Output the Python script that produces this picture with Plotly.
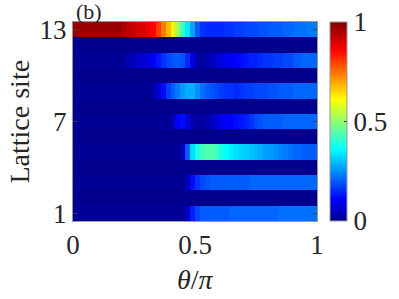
import plotly.graph_objects as go

# theta/pi cell centres (50 columns) and lattice sites
theta = [round(0.01 + 0.02 * k, 2) for k in range(50)]
sites = list(range(1, 14))

site13 = [0.97, 0.97, 0.97, 0.97, 0.97, 0.97, 0.97, 0.97, 0.97, 0.97,
          0.95, 0.93, 0.92, 0.91, 0.90, 0.88, 0.86, 0.80, 0.74, 0.68,
          0.62, 0.52, 0.42, 0.34, 0.27, 0.20, 0.16, 0.15, 0.15, 0.15,
          0.15, 0.16, 0.16, 0.17, 0.17, 0.18, 0.18, 0.18, 0.19, 0.19,
          0.20, 0.20, 0.20, 0.21, 0.21, 0.22, 0.22, 0.22, 0.23, 0.23]
site12 = [0.0] * 50
site11 = [0.01, 0.01, 0.01, 0.01, 0.01, 0.01, 0.01, 0.01, 0.01, 0.01,
          0.02, 0.04, 0.05, 0.06, 0.07, 0.08, 0.10, 0.13, 0.16, 0.18,
          0.19, 0.20, 0.19, 0.15, 0.08, 0.03, 0.02, 0.03, 0.05, 0.07,
          0.08, 0.09, 0.10, 0.11, 0.12, 0.13, 0.14, 0.14, 0.15, 0.16,
          0.16, 0.17, 0.17, 0.18, 0.18, 0.20, 0.20, 0.21, 0.21, 0.21]
site10 = [0.0] * 50
site9 = [0.01, 0.01, 0.01, 0.01, 0.01, 0.01, 0.01, 0.01, 0.01, 0.01,
         0.01, 0.01, 0.01, 0.01, 0.01, 0.01, 0.03, 0.07, 0.12, 0.17,
         0.20, 0.23, 0.26, 0.28, 0.28, 0.25, 0.22, 0.20, 0.19, 0.18,
         0.17, 0.16, 0.16, 0.15, 0.16, 0.17, 0.17, 0.18, 0.18, 0.18,
         0.19, 0.19, 0.20, 0.20, 0.20, 0.21, 0.21, 0.21, 0.21, 0.21]
site8 = [0.0] * 50
site7 = [0.01, 0.01, 0.01, 0.01, 0.01, 0.01, 0.01, 0.01, 0.01, 0.01,
         0.01, 0.01, 0.01, 0.01, 0.01, 0.01, 0.01, 0.01, 0.01, 0.01,
         0.04, 0.10, 0.12, 0.08, 0.03, 0.02, 0.02, 0.03, 0.05, 0.07,
         0.09, 0.10, 0.11, 0.12, 0.13, 0.14, 0.16, 0.18, 0.19, 0.20,
         0.20, 0.20, 0.20, 0.21, 0.21, 0.21, 0.21, 0.21, 0.21, 0.21]
site6 = [0.0] * 50
site5 = [0.01, 0.01, 0.01, 0.01, 0.01, 0.01, 0.01, 0.01, 0.01, 0.01,
         0.01, 0.01, 0.01, 0.01, 0.01, 0.01, 0.01, 0.01, 0.01, 0.01,
         0.01, 0.01, 0.05, 0.20, 0.33, 0.39, 0.42, 0.44, 0.44, 0.42,
         0.38, 0.36, 0.34, 0.33, 0.32, 0.31, 0.30, 0.29, 0.28, 0.27,
         0.26, 0.25, 0.24, 0.23, 0.22, 0.21, 0.21, 0.20, 0.20, 0.20]
site4 = [0.0] * 50
site3 = [0.01, 0.01, 0.01, 0.01, 0.01, 0.01, 0.01, 0.01, 0.01, 0.01,
         0.01, 0.01, 0.01, 0.01, 0.01, 0.01, 0.01, 0.01, 0.01, 0.01,
         0.01, 0.01, 0.01, 0.04, 0.12, 0.16, 0.18, 0.19, 0.20, 0.20,
         0.20, 0.20, 0.20, 0.20, 0.20, 0.20, 0.21, 0.21, 0.21, 0.21,
         0.21, 0.21, 0.21, 0.21, 0.21, 0.21, 0.21, 0.21, 0.21, 0.21]
site2 = [0.0] * 50
site1 = [0.01, 0.01, 0.01, 0.01, 0.01, 0.01, 0.01, 0.01, 0.01, 0.01,
         0.01, 0.01, 0.01, 0.01, 0.01, 0.01, 0.01, 0.01, 0.01, 0.01,
         0.01, 0.01, 0.01, 0.05, 0.14, 0.18, 0.20, 0.20, 0.20, 0.20,
         0.20, 0.20, 0.21, 0.21, 0.21, 0.21, 0.21, 0.21, 0.21, 0.21,
         0.21, 0.21, 0.22, 0.22, 0.22, 0.22, 0.22, 0.22, 0.22, 0.22]

z = [site1, site2, site3, site4, site5, site6, site7,
     site8, site9, site10, site11, site12, site13]

xticks = [0, 0.5, 1]
xticklabels = ["0", "0.5", "1"]
yticks = [1, 7, 13]
yticklabels = ["1", "7", "13"]
cticks = [0, 0.5, 1]
cticklabels = ["0", "0.5", "1"]

jet = [[0.0, "rgb(0,0,140)"], [0.11, "rgb(0,0,255)"], [0.36, "rgb(0,255,255)"],
       [0.61, "rgb(255,255,0)"], [0.86, "rgb(255,0,0)"], [1.0, "rgb(128,0,0)"]]

FONT = "Liberation Serif"
TXT = "#262626"
TICKSIZE = 27

fig = go.Figure(go.Heatmap(
    x=theta, y=sites, z=z, zmin=0, zmax=1, colorscale=jet,
    colorbar=dict(x=1.053, xanchor="left", xpad=0, y=0, yanchor="bottom",
                  len=1, lenmode="fraction", ypad=0, thickness=17,
                  outlinewidth=1, outlinecolor="#999999",
                  tickvals=cticks, ticktext=cticklabels, ticks="inside",
                  ticklen=3, tickcolor="#333333",
                  tickfont=dict(size=TICKSIZE, family=FONT, color=TXT)),
))

fig.update_layout(
    width=399, height=299,
    margin=dict(l=73, r=82, t=22, b=78, autoexpand=False),
    paper_bgcolor="white", plot_bgcolor="white",
    font=dict(family=FONT, color=TXT),
    xaxis=dict(range=[0, 1], tickvals=xticks, ticktext=xticklabels,
               ticks="inside", ticklen=4, tickcolor="#444444",
               showline=True, linecolor="#999999", mirror="ticks",
               showgrid=False, zeroline=False, automargin=False,
               tickfont=dict(size=TICKSIZE, family=FONT, color=TXT)),
    yaxis=dict(range=[0.5, 13.5], tickvals=yticks, ticktext=yticklabels,
               ticks="inside", ticklen=4, tickcolor="#444444",
               showline=True, linecolor="#999999", mirror="ticks",
               showgrid=False, zeroline=False, automargin=False,
               tickfont=dict(size=TICKSIZE, family=FONT, color=TXT)),
    annotations=[
        dict(text="(b)", xref="paper", yref="paper", x=0.0, y=1.0,
             xanchor="left", yanchor="bottom", xshift=2, yshift=-3,
             showarrow=False, borderpad=0,
             font=dict(size=22, family=FONT, color=TXT)),
        dict(text="<i>θ</i>/<i>π</i>", xref="paper", yref="paper",
             x=0.5, y=0, xanchor="center", yanchor="middle", yshift=-58,
             showarrow=False, borderpad=0,
             font=dict(size=28, family=FONT, color=TXT)),
        dict(text="Lattice site", xref="paper", yref="paper",
             x=0, y=0.5, xanchor="center", yanchor="middle", xshift=-54,
             textangle=-90, showarrow=False, borderpad=0,
             font=dict(size=28, family=FONT, color=TXT)),
    ],
)

fig.write_html("out.html", config={"displayModeBar": False},
               post_script="document.body.style.margin='0';document.body.style.overflow='hidden';")
